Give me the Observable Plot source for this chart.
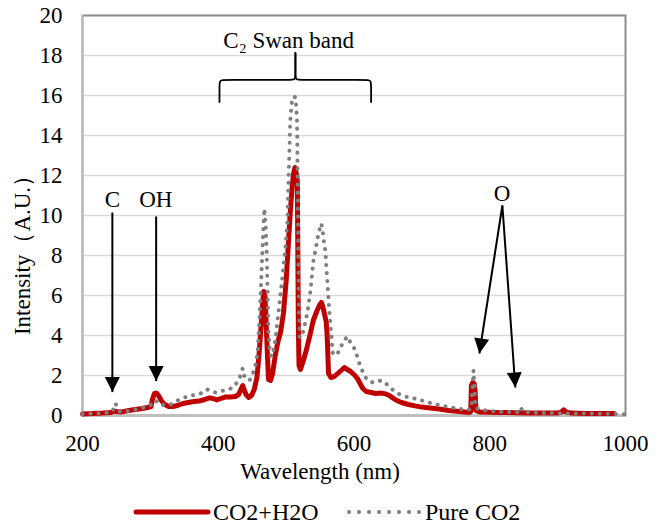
<!DOCTYPE html>
<html>
<head>
<meta charset="utf-8">
<script src="https://cdn.jsdelivr.net/npm/d3@7"></script>
<script src="https://cdn.jsdelivr.net/npm/@observablehq/plot@0.6"></script>
<style>
  html, body { margin: 0; padding: 0; background: #fff; }
  #chart { width: 662px; }
  #legend { width: 662px; height: 32px; }
  #chart svg, #chart svg text, #legend svg, #legend svg text {
    font-family: "Liberation Serif", "DejaVu Serif", serif !important;
  }
</style>
</head>
<body>
<div id="chart"></div>
<div id="legend"></div>
<script>
// ---------- data ----------
const xTicks = [200, 400, 600, 800, 1000];
const yTicks = [0, 2, 4, 6, 8, 10, 12, 14, 16, 18, 20];

const seriesNames = ["CO2+H2O", "Pure CO2"];
const seriesColors = ["#c00000", "#7f7f7f"];

// CO2+H2O (solid red)
const redWl = [200,215,230,242,246,250,258,268,278,288,296,301,303,306,309,312,316,321,327,333,340,348,356,364,372,380,387,392,398,404,410,418,425,430,434,436,438,441,445,449,453,457,460,463,465,467,469,470,472,474,477,480,484,488,492,496,500,503,506,509,511,513,515,516.5,517.3,518,519,521,525,530,535,540,545,549,552,554,557,559,560.5,561.5,562.5,566,571,576,581,586,590,595,600,605,609,613,618,625,632,640,647,652,657,663,670,680,690,700,712,725,740,755,770,772,773,775,777,778.5,779.5,785,800,820,840,860,880,900,906,909,912,920,940,960,983];
const redInt = [0.08,0.1,0.12,0.15,0.22,0.2,0.18,0.25,0.3,0.35,0.4,0.45,0.8,1.1,1.12,1.0,0.75,0.55,0.45,0.45,0.5,0.6,0.65,0.7,0.72,0.8,0.88,0.85,0.78,0.85,0.92,0.92,0.95,1.05,1.35,1.5,1.3,1.05,0.9,1.0,1.3,1.9,3.0,4.4,5.4,6.2,5.9,5.1,3.4,1.8,1.75,2.1,3.0,3.7,4.2,5.1,6.7,8.4,10.1,11.5,12.1,12.4,12.1,11.7,8.0,4.5,2.5,2.3,2.7,3.3,4.0,4.75,5.2,5.5,5.65,5.45,5.0,4.7,4.0,3.0,2.1,1.9,1.95,2.1,2.25,2.4,2.3,2.2,2.05,1.85,1.6,1.35,1.2,1.15,1.1,1.12,1.08,1.0,0.88,0.75,0.65,0.55,0.48,0.42,0.38,0.32,0.25,0.2,0.15,0.2,1.5,1.65,1.6,1.2,0.25,0.18,0.16,0.15,0.14,0.12,0.12,0.12,0.18,0.28,0.18,0.12,0.1,0.1,0.1];

// Pure CO2 (grey dotted)
const grayWl = [200,215,230,240,245,247,249,251,255,265,275,285,295,302,306,310,315,322,330,340,350,360,370,378,384,390,396,402,410,418,424,430,433,436,438,441,446,450,454,458,461,463,465,467,468,470,471.5,472.7,474,476,478,481,484,489,494,499,502,503.5,505,506,508,511,514,516,516.8,517.5,518.2,519,520,523,526,531,536,540,544,547.5,550,552,554,556,558,559.5,562,564,566.5,568.5,572,576,580,585,590,594,598,602,606,610,614,618,622,628,634,640,645,650,655,660,666,675,685,695,705,715,725,740,755,768,773,774.5,776,777.5,779,785,795,810,825,840,844,846,848,860,880,900,920,950,980,1000];
const grayInt = [0.08,0.1,0.12,0.15,0.25,0.55,0.6,0.35,0.2,0.22,0.28,0.35,0.45,0.55,0.75,0.7,0.55,0.5,0.55,0.75,0.9,1.0,1.05,1.15,1.3,1.2,1.15,1.22,1.25,1.35,1.45,1.8,2.0,2.35,2.0,1.85,1.75,2.0,2.4,3.1,5.0,6.5,8.2,9.8,10.35,9.4,8.0,6.2,4.2,3.2,2.95,3.2,3.75,5.25,6.75,8.4,9.75,11.7,13.4,14.7,15.6,15.95,15.9,14.8,12.6,10.1,7.6,5.1,3.9,3.95,4.3,5.1,6.25,7.7,8.4,9.1,9.4,9.6,9.2,8.6,8.2,7.3,6.1,5.1,4.1,3.15,3.0,3.1,3.4,3.7,3.95,3.7,3.5,3.25,2.8,2.4,2.1,1.85,1.72,1.65,1.7,1.75,1.68,1.5,1.35,1.2,1.08,0.95,0.88,0.8,0.7,0.6,0.52,0.42,0.33,0.28,0.35,1.4,2.25,1.5,0.4,0.3,0.25,0.2,0.18,0.16,0.25,0.4,0.2,0.15,0.12,0.12,0.1,0.1,0.08,0.06];

// annotation labels (data units)
const labelText = ["C", "OH", "O"];
const labelX = [244, 308, 818.2];
const labelY = [10.78, 10.78, 11.09];

// arrows: start (x1,y1) -> tip (x2,y2)
const arrowX1 = [244, 308.5, 818.6, 818.6];
const arrowY1 = [10.15, 9.95, 10.5, 10.5];
const arrowX2 = [244, 308.5, 784.7, 837.7];
const arrowY2 = [1.17, 1.72, 3.1, 1.4];

// C2 Swan band brace
const bandLabel = "C\u2082 Swan band";
const bandLabelX = 503.8;
const bandLabelY = 18.75;
const braceX = [401.8,401.8,401.8,407,509,513.7,513.7,513.7, 625.2,625.2,625.2,620,518.4,513.7,513.7,513.7];
const braceY = [15.67,16.3,16.78,16.78,16.78,16.78,17.3,18.13, 15.67,16.3,16.78,16.78,16.78,16.78,17.3,18.13];
const braceSide = ["L","L","L","L","L","L","L","L","R","R","R","R","R","R","R","R"];

const xLabel = "Wavelength (nm)";
const yLabel = "Intensity\uFF08A.U.\uFF09";

// ---------- layout ----------
const W = 662, H = 495, ML = 82, MR = 37, MT = 15, MB = 80;
const FONT = "Liberation Serif, DejaVu Serif, serif";

const redData = redWl.map((w, i) => ({w, v: redInt[i]}));
const grayData = grayWl.map((w, i) => ({w, v: grayInt[i]}));
const braceData = braceX.map((x, i) => ({x, y: braceY[i], s: braceSide[i]}));
const arrowData = arrowX1.map((x1, i) => ({x1, y1: arrowY1[i], x2: arrowX2[i], y2: arrowY2[i]}));
const labelData = labelText.map((t, i) => ({t, x: labelX[i], y: labelY[i]}));

// pixel-space helpers (same mapping as the plot) for arrowhead orientation
const sx = d3.scaleLinear([200, 1000], [ML, W - MR]);
const sy = d3.scaleLinear([0, 20], [H - MB, MT]);
function headSymbol(a) {
  const dx = sx(a.x2) - sx(a.x1), dy = sy(a.y2) - sy(a.y1);
  const L = Math.hypot(dx, dy), ux = dx / L, uy = dy / L;
  const len = 15, hw = 7.5;
  return {
    draw(ctx) {
      const bx = -ux * len, by = -uy * len;
      ctx.moveTo(0, 0);
      ctx.lineTo(bx - uy * hw, by + ux * hw);
      ctx.lineTo(bx + uy * hw, by - ux * hw);
      ctx.closePath();
    }
  };
}

const chart = Plot.plot({
  width: W, height: H,
  marginLeft: ML, marginRight: MR, marginTop: MT, marginBottom: MB,
  style: {fontFamily: FONT, fontSize: "23px", color: "#000", background: "#fff", overflow: "visible"},
  x: {domain: [200, 1000], ticks: xTicks, tickSize: 0, tickPadding: 19, label: null, tickFormat: d => String(d)},
  y: {domain: [0, 20], ticks: yTicks, tickSize: 0, tickPadding: 20, label: null, tickFormat: d => String(d)},
  marks: [
    Plot.ruleY(yTicks, {stroke: "#d9d9d9", strokeWidth: 1.6}),
    Plot.frame({stroke: "#8c8c8c", strokeWidth: 2}),
    Plot.ruleX([200], {stroke: "#bfbfbf", strokeWidth: 2.2}),
    Plot.ruleY([0], {stroke: "#bfbfbf", strokeWidth: 2.2}),
    Plot.line(redData, {x: "w", y: "v", stroke: seriesColors[0], strokeWidth: 5, strokeLinejoin: "round", strokeLinecap: "round"}),
    Plot.line(grayData, {x: "w", y: "v", stroke: seriesColors[1], strokeWidth: 4, strokeDasharray: "0.1 7.9", strokeLinecap: "round", strokeLinejoin: "round"}),
    Plot.line(braceData, {x: "x", y: "y", z: "s", stroke: "#000", strokeWidth: 1.8, curve: "basis"}),
    Plot.text([bandLabel], {x: () => bandLabelX, y: () => bandLabelY, text: d => d, fontSize: 23, fontFamily: FONT, fill: "#000", textAnchor: "middle", lineAnchor: "middle"}),
    Plot.link(arrowData, {x1: "x1", y1: "y1", x2: "x2", y2: "y2", stroke: "#000", strokeWidth: 2}),
    ...arrowData.map(a => Plot.dot([a], {x: "x2", y: "y2", r: 1, symbol: headSymbol(a), fill: "#000", stroke: "none"})),
    Plot.text(labelData, {x: "x", y: "y", text: "t", fontSize: 23, fontFamily: FONT, fill: "#000", textAnchor: "middle", lineAnchor: "middle"}),
    Plot.text([xLabel], {frameAnchor: "bottom", text: d => d, dx: -34, dy: 56, fontSize: 23, fontFamily: FONT, fill: "#000", textAnchor: "middle", lineAnchor: "middle"}),
    Plot.text([yLabel], {frameAnchor: "left", text: d => d, dx: -60, dy: 34, rotate: -90, fontSize: 23, fontFamily: FONT, fill: "#000", textAnchor: "middle", lineAnchor: "middle"})
  ]
});
document.getElementById("chart").appendChild(chart);

// ---------- legend (below the plot) ----------
const lg = d3.select("#legend").append("svg").attr("width", W).attr("height", 32)
  .style("font-family", FONT).style("font-size", "24px");
const legendItems = [
  {name: seriesNames[0], color: seriesColors[0], x0: 136, x1: 208, tx: 213, dotted: false},
  {name: seriesNames[1], color: seriesColors[1], x0: 349, x1: 419, tx: 425, dotted: true}
];
legendItems.forEach(it => {
  const l = lg.append("line").attr("x1", it.x0).attr("x2", it.x1).attr("y1", 17).attr("y2", 17)
    .attr("stroke", it.color).attr("stroke-linecap", "round");
  if (it.dotted) l.attr("stroke-width", 4).attr("stroke-dasharray", "0.1 9.9");
  else l.attr("stroke-width", 5);
  lg.append("text").attr("x", it.tx).attr("y", 25).attr("fill", "#000").text(it.name);
});
</script>
</body>
</html>
